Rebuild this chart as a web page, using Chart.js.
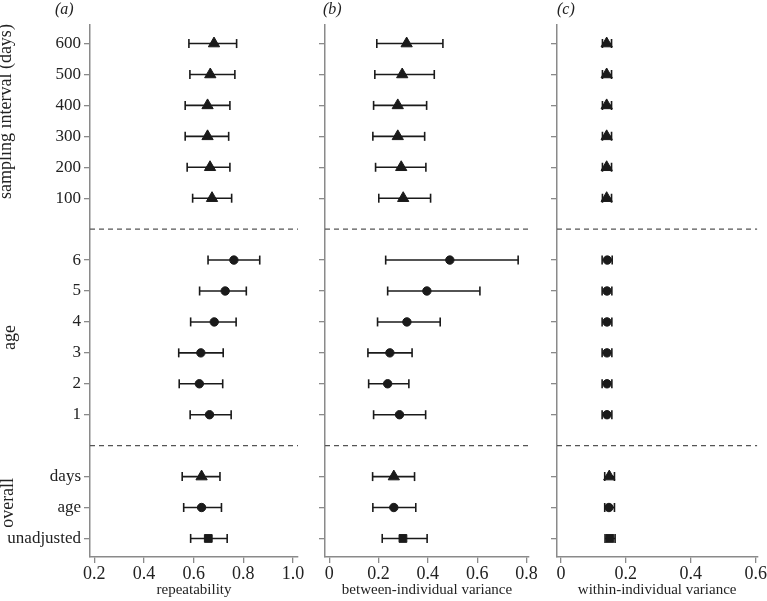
<!DOCTYPE html>
<html>
<head>
<meta charset="utf-8">
<script src="https://cdn.jsdelivr.net/npm/chart.js@4"></script>
<style>
  body { margin: 0; background: #fff; }
  #wrap { position: relative; width: 767px; height: 601px; overflow: hidden; }
  canvas { position: absolute; top: 0; }
  .tag { position: absolute; top: 0; font: italic 16px "Liberation Serif", serif; color: #222; }
</style>
</head>
<body>
<div id="wrap">
  <canvas id="panelA" width="318" height="601" style="left:0"></canvas>
  <canvas id="panelB" width="240" height="601" style="left:300px"></canvas>
  <canvas id="panelC" width="227" height="601" style="left:540px"></canvas>
  <div class="tag" style="left:55px">(a)</div>
  <div class="tag" style="left:323px">(b)</div>
  <div class="tag" style="left:557px">(c)</div>
</div>
<script>
// rows from top to bottom, gaps at 6 and 13 hold the dashed separators
const rowPos = [0, 1, 2, 3, 4, 5, 7, 8, 9, 10, 11, 12, 14, 15, 16];
const rowLabels = ["600", "500", "400", "300", "200", "100", "6", "5", "4", "3", "2", "1", "days", "age", "unadjusted"];
const markers = ["triangle", "triangle", "triangle", "triangle", "triangle", "triangle",
  "circle", "circle", "circle", "circle", "circle", "circle", "triangle", "circle", "rect"];
const dividers = [6, 13];
const groupNames = ["sampling interval (days)", "age", "overall"];
const groupRows = [[0, 5], [7, 12], [14, 16]];

// (a) repeatability
const repMean = [0.682, 0.667, 0.656, 0.656, 0.666, 0.674, 0.762, 0.727, 0.683, 0.629, 0.623, 0.664, 0.632, 0.632, 0.659];
const repLow  = [0.581, 0.585, 0.566, 0.566, 0.574, 0.596, 0.658, 0.624, 0.588, 0.540, 0.542, 0.586, 0.554, 0.560, 0.588];
const repHigh = [0.773, 0.766, 0.746, 0.741, 0.746, 0.753, 0.866, 0.812, 0.771, 0.719, 0.717, 0.751, 0.706, 0.712, 0.735];
const repTicks = [0.2, 0.4, 0.6, 0.8, 1.0];

// (b) between-individual variance
const betMean = [0.314, 0.296, 0.278, 0.278, 0.292, 0.300, 0.489, 0.396, 0.315, 0.246, 0.237, 0.285, 0.262, 0.262, 0.299];
const betLow  = [0.193, 0.185, 0.180, 0.177, 0.188, 0.201, 0.229, 0.237, 0.196, 0.157, 0.160, 0.180, 0.176, 0.177, 0.215];
const betHigh = [0.461, 0.426, 0.395, 0.387, 0.392, 0.411, 0.766, 0.611, 0.450, 0.336, 0.323, 0.391, 0.346, 0.351, 0.397];
const betTicks = [0, 0.2, 0.4, 0.6, 0.8];

// (c) within-individual variance
const witMean = [0.141, 0.141, 0.141, 0.141, 0.141, 0.141, 0.143, 0.142, 0.142, 0.142, 0.142, 0.142, 0.149, 0.148, 0.151];
const witLow  = [0.128, 0.128, 0.128, 0.128, 0.128, 0.128, 0.127, 0.127, 0.127, 0.127, 0.127, 0.127, 0.135, 0.135, 0.136];
const witHigh = [0.156, 0.156, 0.156, 0.156, 0.156, 0.156, 0.158, 0.157, 0.157, 0.157, 0.157, 0.157, 0.165, 0.165, 0.167];
const witTicks = [0, 0.2, 0.4, 0.6];

Chart.defaults.font.family = '"Liberation Serif", "Times New Roman", serif';
Chart.defaults.color = "#222";

const INK = "#1a1a1a";
const AXIS = "#8a8a8a";

// rotated group names on the far left of panel (a)
const groupLabels = {
    id: "groupLabels",
    afterDraw(chart) {
        const ctx = chart.ctx;
        const y = chart.scales.y;
        const shift = [-0.3, 0, -0.15];
        const baseX = [11, 15, 13];
        groupNames.forEach((name, i) => {
            const mid = (groupRows[i][0] + groupRows[i][1]) / 2 + shift[i];
            ctx.save();
            ctx.translate(baseX[i], y.getPixelForValue(mid));
            ctx.rotate(-Math.PI / 2);
            ctx.font = '18px "Liberation Serif", serif';
            ctx.fillStyle = "#222";
            ctx.textAlign = "center";
            ctx.fillText(name, 0, 0);
            ctx.restore();
        });
    }
};

function makePanel(id, p) {
    const datasets = [];

    datasets.push({
        data: p.mean.map((v, i) => ({ x: v, y: rowPos[i] })),
        pointStyle: markers,
        pointRadius: markers.map(m => m === "triangle" ? 6.5 : m === "rect" ? 5.5 : 4.2),
        pointBackgroundColor: INK,
        pointBorderColor: INK,
        pointBorderWidth: 1,
        order: 0
    });

    p.low.forEach((lo, i) => {
        datasets.push({
            data: [{ x: lo, y: rowPos[i] }, { x: p.high[i], y: rowPos[i] }],
            showLine: true,
            borderColor: INK,
            borderWidth: 1.6,
            pointStyle: "line",
            pointRotation: 90,
            pointRadius: 4.5,
            pointBorderWidth: 1.6,
            pointBorderColor: INK,
            order: 1
        });
    });

    dividers.forEach(d => {
        datasets.push({
            data: [{ x: p.min, y: d }, { x: p.max, y: d }],
            showLine: true,
            borderColor: "#555",
            borderWidth: 1.3,
            borderDash: [5, 4],
            pointRadius: 0,
            order: 2
        });
    });

    new Chart(document.getElementById(id), {
        type: "scatter",
        data: { datasets },
        options: {
            responsive: false,
            animation: false,
            layout: { padding: { top: 25, right: p.padRight, left: 0, bottom: 0 } },
            plugins: { legend: { display: false }, tooltip: { enabled: false } },
            scales: {
                x: {
                    type: "linear",
                    min: p.min,
                    max: p.max,
                    afterBuildTicks: s => { s.ticks = p.ticks.map(v => ({ value: v })); },
                    afterFit: s => { s.height = 44; },
                    ticks: {
                        font: { size: 18 },
                        padding: 0,
                        color: "#222",
                        callback: v => v === 0 ? "0" : v.toFixed(1)
                    },
                    grid: { drawOnChartArea: false, drawTicks: true, tickLength: 6, color: AXIS, lineWidth: 1.3 },
                    border: { display: true, color: AXIS, width: 1.5 },
                    title: {
                        display: true,
                        text: p.title,
                        font: { size: 15 },
                        color: "#222",
                        padding: { top: 0, bottom: 2 }
                    }
                },
                y: {
                    type: "linear",
                    reverse: true,
                    min: -0.6,
                    max: 16.6,
                    afterBuildTicks: s => { s.ticks = rowPos.map(v => ({ value: v })); },
                    afterFit: s => { s.width = p.yWidth; },
                    ticks: {
                        font: { size: 17 },
                        padding: 3,
                        color: "#222",
                        callback: (v, i) => p.showLabels ? rowLabels[i] : ""
                    },
                    grid: { drawOnChartArea: false, drawTicks: true, tickLength: 6, color: AXIS, lineWidth: 1.3 },
                    border: { display: true, color: AXIS, width: 1.5 }
                }
            }
        },
        plugins: p.showLabels ? [groupLabels] : []
    });
}

makePanel("panelA", {
    mean: repMean, low: repLow, high: repHigh, ticks: repTicks,
    min: 0.183, max: 1.02, title: "repeatability",
    yWidth: 90, padRight: 20, showLabels: true
});
makePanel("panelB", {
    mean: betMean, low: betLow, high: betHigh, ticks: betTicks,
    min: -0.017, max: 0.81, title: "between-individual variance",
    yWidth: 25, padRight: 11, showLabels: false
});
makePanel("panelC", {
    mean: witMean, low: witLow, high: witHigh, ticks: witTicks,
    min: -0.012, max: 0.605, title: "within-individual variance",
    yWidth: 17, padRight: 9, showLabels: false
});
</script>
</body>
</html>
